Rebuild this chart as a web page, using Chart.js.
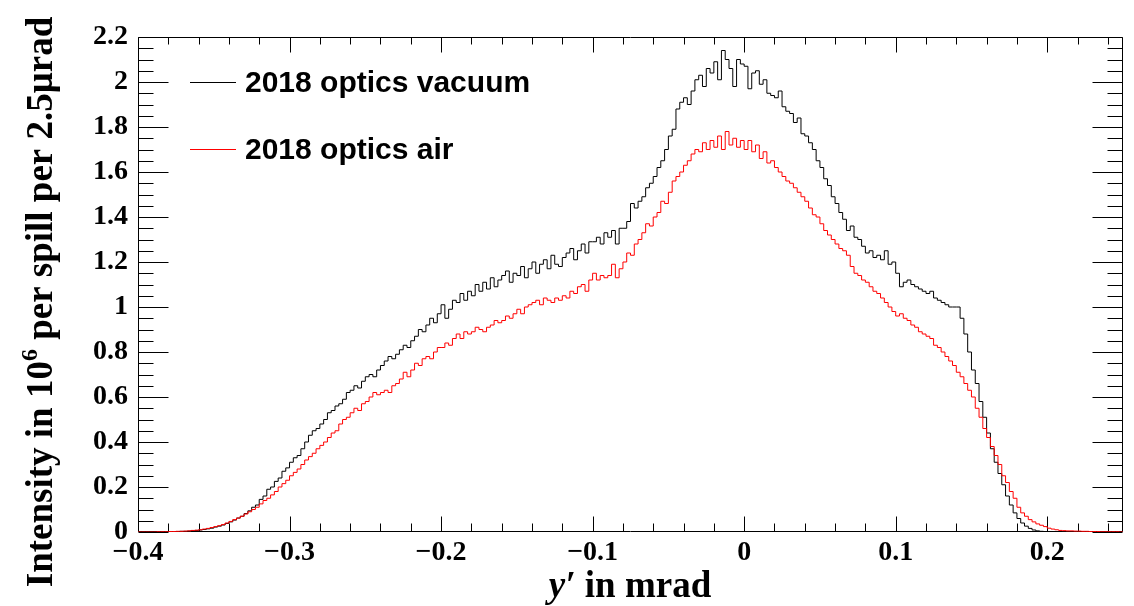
<!DOCTYPE html>
<html>
<head>
<meta charset="utf-8">
<title>y' distribution 2018 optics</title>
<script src="https://cdn.jsdelivr.net/npm/chart.js@4.4.1/dist/chart.umd.min.js"></script>
<style>
  html, body { margin: 0; padding: 0; background: #fff; }
  #wrap { width: 1134px; height: 606px; }
</style>
</head>
<body>
<div id="wrap"><canvas id="beamChart" width="1134" height="606"></canvas></div>
<script>
// Histogram binning (mrad), 2.5 urad per bin
const X_START = -0.4;
const BIN_WIDTH = 0.0025;

// Bin contents in 10^6 per spill, one group = 0.01 mrad (4 bins)
const VACUUM = [
  0, 0, 0, 0,   0, 0, 0.001, 0.001,   0.001, 0.002, 0.002, 0.003,   0.003, 0.004, 0.006, 0.007,
  0.009, 0.011, 0.014, 0.017,   0.022, 0.026, 0.031, 0.038,   0.045, 0.053, 0.062, 0.07,
  0.082, 0.094, 0.11, 0.12,   0.145, 0.16, 0.19, 0.2,   0.225, 0.24, 0.27, 0.285,
  0.31, 0.33, 0.34, 0.37,   0.40, 0.43, 0.45, 0.46,   0.48, 0.50, 0.53, 0.54,
  0.56, 0.57, 0.59, 0.62,   0.63, 0.65, 0.64, 0.67,   0.69, 0.70, 0.69, 0.72,
  0.74, 0.76, 0.78, 0.77,   0.79, 0.81, 0.83, 0.82,   0.85, 0.87, 0.90, 0.89,
  0.92, 0.95, 0.93, 0.97,   1.01, 0.95, 0.99, 1.03,   1.02, 1.06, 1.03, 1.07,
  1.05, 1.10, 1.07, 1.11,   1.08, 1.13, 1.09, 1.12,   1.14, 1.16, 1.11, 1.15,
  1.14, 1.18, 1.13, 1.17,   1.20, 1.15, 1.19, 1.21,   1.17, 1.23, 1.19, 1.18,
  1.22, 1.24, 1.26, 1.21,   1.25, 1.28, 1.24, 1.29,   1.29, 1.31, 1.28, 1.33,
  1.31, 1.34, 1.28, 1.35,   1.35, 1.38, 1.46, 1.44,   1.47, 1.49, 1.53, 1.55,
  1.58, 1.62, 1.65, 1.70,   1.76, 1.79, 1.88, 1.91,   1.93, 1.90, 1.96, 2.01,
  2.03, 1.98, 2.06, 2.04,   2.09, 2.01, 2.14, 2.10,   2.06, 1.98, 2.10, 2.08,
  2.07, 1.97, 2.04, 2.05,   1.99, 2.01, 1.95, 1.94,   1.93, 1.96, 1.89, 1.87,
  1.86, 1.82, 1.84, 1.77,   1.76, 1.73, 1.70, 1.65,   1.62, 1.57, 1.54, 1.49,
  1.46, 1.42, 1.39, 1.34,   1.36, 1.31, 1.30, 1.27,   1.24, 1.25, 1.22, 1.23,
  1.21, 1.25, 1.19, 1.20,   1.15, 1.09, 1.11, 1.12,   1.10, 1.09, 1.08, 1.07,
  1.06, 1.07, 1.04, 1.03,   1.02, 1.01, 1.00, 1.00,   1.00, 0.95, 0.88, 0.80,
  0.72, 0.66, 0.58, 0.51,   0.44, 0.37, 0.31, 0.26,   0.21, 0.16, 0.12, 0.085,
  0.06, 0.04, 0.026, 0.016,   0.009, 0.005, 0.003, 0.002,   0.001, 0.001, 0, 0,
  0, 0, 0, 0,   0, 0, 0, 0,   0, 0, 0, 0,   0, 0, 0, 0
];

const AIR = [
  0, 0, 0, 0,   0, 0.001, 0.001, 0.001,   0.002, 0.002, 0.003, 0.003,   0.004, 0.005, 0.007, 0.008,
  0.01, 0.013, 0.016, 0.02,   0.024, 0.028, 0.033, 0.04,   0.047, 0.055, 0.062, 0.07,
  0.08, 0.09, 0.10, 0.11,   0.125, 0.14, 0.15, 0.165,   0.18, 0.20, 0.215, 0.23,
  0.25, 0.265, 0.28, 0.30,   0.32, 0.335, 0.35, 0.37,   0.385, 0.40, 0.42, 0.44,
  0.45, 0.48, 0.50, 0.51,   0.53, 0.55, 0.54, 0.57,   0.58, 0.60, 0.62, 0.61,
  0.62, 0.63, 0.62, 0.65,   0.66, 0.68, 0.71, 0.69,   0.72, 0.75, 0.74, 0.77,
  0.78, 0.77, 0.80, 0.82,   0.82, 0.84, 0.83, 0.86,   0.88, 0.86, 0.89, 0.88,
  0.89, 0.91, 0.90, 0.89,   0.91, 0.92, 0.94, 0.93,   0.94, 0.96, 0.95, 0.97,
  0.99, 0.97, 1.00, 1.01,   1.02, 1.03, 1.01, 1.04,   1.03, 1.02, 1.04, 1.03,
  1.05, 1.04, 1.07, 1.06,   1.09, 1.10, 1.07, 1.12,   1.15, 1.12, 1.14, 1.13,
  1.14, 1.19, 1.13, 1.17,   1.20, 1.24, 1.23, 1.28,   1.30, 1.33, 1.37, 1.36,
  1.40, 1.42, 1.47, 1.46,   1.51, 1.56, 1.58, 1.60,   1.63, 1.65, 1.68, 1.70,
  1.69, 1.73, 1.70, 1.74,   1.71, 1.76, 1.70, 1.78,   1.72, 1.75, 1.71, 1.74,
  1.70, 1.74, 1.69, 1.72,   1.66, 1.69, 1.64, 1.65,   1.62, 1.60, 1.58, 1.56,
  1.55, 1.53, 1.51, 1.49,   1.47, 1.44, 1.41, 1.40,   1.37, 1.34, 1.32, 1.30,
  1.28, 1.26, 1.25, 1.23,   1.18, 1.15, 1.14, 1.12,   1.11, 1.09, 1.07, 1.06,
  1.04, 1.02, 1.00, 0.98,   0.96, 0.97, 0.95, 0.94,   0.92, 0.91, 0.89, 0.88,
  0.87, 0.86, 0.83, 0.82,   0.80, 0.78, 0.76, 0.74,   0.71, 0.69, 0.66, 0.63,
  0.60, 0.55, 0.51, 0.46,   0.42, 0.38, 0.34, 0.30,   0.25, 0.22, 0.18, 0.15,
  0.11, 0.085, 0.07, 0.055,   0.045, 0.036, 0.03, 0.024,   0.017, 0.013, 0.01, 0.007,
  0.006, 0.005, 0.005, 0.004,   0.004, 0.003, 0.003, 0.002,   0.002, 0.002, 0.001, 0.001,
  0.001, 0.001, 0.001, 0
];

const SERIES_LABELS = ['2018 optics vacuum', '2018 optics air'];
const SERIES_COLORS = ['#000000', '#ff0000'];

// Axis ticks
const X_TICKS = [-0.4, -0.3, -0.2, -0.1, 0, 0.1, 0.2];
const X_LABELS = ['\u22120.4', '\u22120.3', '\u22120.2', '\u22120.1', '0', '0.1', '0.2'];
const Y_TICKS = [0, 0.2, 0.4, 0.6, 0.8, 1, 1.2, 1.4, 1.6, 1.8, 2, 2.2];
const Y_LABELS = ['0', '0.2', '0.4', '0.6', '0.8', '1', '1.2', '1.4', '1.6', '1.8', '2', '2.2'];

const SERIF = '"Liberation Serif", "Times New Roman", serif';
const SANS = '"Liberation Sans", Arial, sans-serif';

// Turn bin contents into left-edge points for a stepped line
function toSteps(values) {
    const pts = values.map((v, i) => ({ x: X_START + i * BIN_WIDTH, y: v }));
    pts.push({ x: X_START + values.length * BIN_WIDTH, y: values[values.length - 1] });
    return pts;
}

// ROOT style frame with inward ticks on all four sides
const rootFrame = {
    id: 'rootFrame',
    beforeDatasetsDraw(chart) {
        const { ctx, chartArea: a, scales: { x, y } } = chart;
        const L = Math.round(a.left) + 0.5, R = Math.round(a.right) - 0.5;
        const T = Math.round(a.top) + 0.5, B = Math.round(a.bottom) - 0.5;
        ctx.save();
        ctx.strokeStyle = '#000';
        ctx.lineWidth = 1;
        ctx.beginPath();
        // y: minor every 0.05, major every 0.2
        for (let i = 0; i <= 44; i++) {
            const py = Math.round(y.getPixelForValue(i * 0.05)) + 0.5;
            const len = i % 4 === 0 ? 30 : 15;
            ctx.moveTo(L, py); ctx.lineTo(L + len, py);
            ctx.moveTo(R, py); ctx.lineTo(R - len, py);
        }
        // x: minor every 0.02, major every 0.1
        for (let i = 0; i <= 32; i++) {
            const px = Math.round(x.getPixelForValue(-0.4 + i * 0.02)) + 0.5;
            const major = i % 5 === 0;
            ctx.moveTo(px, B); ctx.lineTo(px, B - (major ? 15 : 8));
            ctx.moveTo(px, T); ctx.lineTo(px, T + (major ? 15 : 7));
        }
        ctx.rect(L, T, R - L, B - T);
        ctx.stroke();
        ctx.restore();
    },
    afterDraw(chart) {
        const { ctx } = chart;
        ctx.save();
        ctx.fillStyle = '#000';

        // y axis title, rotated, with superscript
        ctx.translate(52, 302);
        ctx.rotate(-Math.PI / 2);
        const big = 'bold 37px ' + SERIF, small = 'bold 24px ' + SERIF;
        const parts = [
            { t: 'Intensity in 10', f: big, dy: 0 },
            { t: '6', f: small, dy: -15 },
            { t: ' per spill per 2.5\u03bcrad', f: big, dy: 0 }
        ];
        let total = 0;
        parts.forEach(p => { ctx.font = p.f; p.w = ctx.measureText(p.t).width; total += p.w; });
        let cx = -total / 2;
        ctx.textBaseline = 'alphabetic';
        ctx.textAlign = 'left';
        parts.forEach(p => { ctx.font = p.f; ctx.fillText(p.t, cx, p.dy); cx += p.w; });
        ctx.restore();

        // x axis title
        ctx.save();
        ctx.fillStyle = '#000';
        ctx.textBaseline = 'alphabetic';
        const xa = 'bold italic 37px ' + SERIF, xb = 'bold 37px ' + SERIF;
        ctx.font = xa; const w1 = ctx.measureText('y\u2032').width;
        ctx.font = xb; const w2 = ctx.measureText(' in mrad').width;
        let sx = 630 - (w1 + w2) / 2;
        ctx.font = xa; ctx.fillText('y\u2032', sx, 597);
        ctx.font = xb; ctx.fillText(' in mrad', sx + w1, 597);

        // legend
        ctx.font = 'bold 30px ' + SANS;
        const rows = [82, 149];
        chart.data.datasets.forEach((ds, i) => {
            const ly = rows[i] + 0.5;
            ctx.strokeStyle = ds.borderColor;
            ctx.lineWidth = 1;
            ctx.beginPath(); ctx.moveTo(190, ly); ctx.lineTo(236, ly); ctx.stroke();
            ctx.fillStyle = '#000';
            ctx.fillText(ds.label, 245, rows[i] + 10);
        });
        ctx.restore();
    }
};

document.addEventListener('DOMContentLoaded', () => {
    const ctx = document.getElementById('beamChart').getContext('2d');
    new Chart(ctx, {
        type: 'line',
        data: {
            datasets: [
                { label: SERIES_LABELS[0], data: toSteps(VACUUM), borderColor: SERIES_COLORS[0], order: 1 },
                { label: SERIES_LABELS[1], data: toSteps(AIR), borderColor: SERIES_COLORS[1], order: 0 }
            ]
        },
        options: {
            responsive: false,
            animation: false,
            events: [],
            layout: { padding: { top: 37, right: 11, left: 0, bottom: 0 } },
            elements: {
                line: { borderWidth: 1, stepped: 'before', tension: 0, fill: false },
                point: { radius: 0 }
            },
            plugins: { legend: { display: false }, tooltip: { enabled: false } },
            scales: {
                x: {
                    type: 'linear',
                    min: -0.4,
                    max: 0.25,
                    grid: { display: false, drawTicks: false },
                    border: { display: false },
                    afterBuildTicks: s => { s.ticks = X_TICKS.map(v => ({ value: v })); },
                    afterFit: s => { s.height = 74; },
                    ticks: {
                        autoSkip: false,
                        maxRotation: 0,
                        padding: 4,
                        color: '#000',
                        font: { family: SERIF, size: 28, weight: 'bold' },
                        callback: (v, i) => X_LABELS[i]
                    }
                },
                y: {
                    min: 0,
                    max: 2.2,
                    grid: { display: false, drawTicks: false },
                    border: { display: false },
                    afterBuildTicks: s => { s.ticks = Y_TICKS.map(v => ({ value: v })); },
                    afterFit: s => { s.width = 138; },
                    ticks: {
                        autoSkip: false,
                        padding: 10,
                        color: '#000',
                        font: { family: SERIF, size: 28, weight: 'bold' },
                        callback: (v, i) => Y_LABELS[i]
                    }
                }
            }
        },
        plugins: [rootFrame]
    });
});
</script>
</body>
</html>
